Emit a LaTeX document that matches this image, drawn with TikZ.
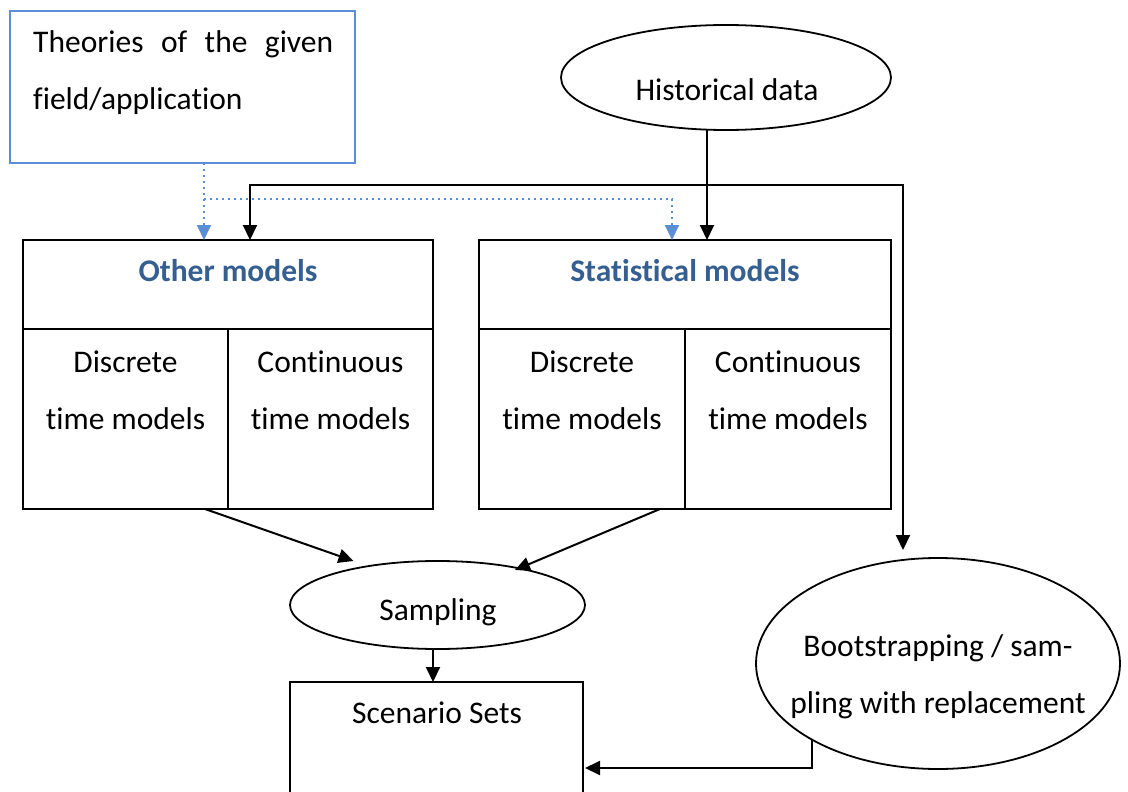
\documentclass[tikz,border=0pt]{standalone}
\usepackage{fontspec}
\setmainfont{Carlito}[Ligatures=NoCommon]
\usetikzlibrary{shapes.geometric,arrows.meta}

\definecolor{boxblue}{RGB}{91,142,213}
\definecolor{headblue}{RGB}{54,95,145}

\tikzset{
  body/.style={font=\fontsize{31.5}{57}\selectfont, inner sep=0pt, anchor=base},
  heading/.style={body, font=\fontsize{31.5}{57}\selectfont\bfseries, text=headblue},
  frame/.style={draw, line width=2pt, inner sep=0pt, outer sep=0pt},
  oval/.style={frame, line width=1.8pt, ellipse},
  tip/.tip={Triangle[width=14pt,length=15pt]},
  arr/.style={line width=2pt, -tip},
  biarr/.style={line width=2pt, tip-tip},
  dotarr/.style={draw=boxblue, line width=2pt, dash pattern=on 2pt off 4pt,
                 -{Triangle[width=14pt,length=15pt,fill=boxblue]}}
}

\begin{document}
\begin{tikzpicture}[x=1pt, y=-1pt]
\useasboundingbox (0,0) rectangle (1128,792);
\clip (0,0) rectangle (1128,792);
\fill[white] (0,0) rectangle (1128,792);

% input sources
\node[frame, draw=boxblue, minimum width=345pt, minimum height=152pt] (theories) at (182.5,87) {};
\node[body, anchor=base west, text width=300pt, align=justify] (theoriestext) at (33,53)
  {Theories of the given field/application};

\node[oval, minimum width=330pt, minimum height=105pt] (hist) at (726,77.5) {};
\node[body] (histtext) at (727,101) {Historical data};

% model families (multi-line labels sit on the baseline of their last line)
\node[frame, rectangle, minimum width=410pt, minimum height=269pt] (other) at (228,374.5) {};
\draw[line width=2pt] ([yshift=-89pt]other.north west) -- ([yshift=-89pt]other.north east);
\draw[line width=2pt] (other.south) -- ++(0,-180);
\node[heading] (othertitle) at (228,281) {Other models};
\node[body, align=center] (otherdisc) at (125.5,429) {Discrete\\time models};
\node[body, align=center] (othercont) at (330.5,429) {Continuous\\time models};

\node[frame, rectangle, minimum width=412pt, minimum height=269pt] (stat) at (685,374.5) {};
\draw[line width=2pt] ([yshift=-89pt]stat.north west) -- ([yshift=-89pt]stat.north east);
\draw[line width=2pt] (stat.south) -- ++(0,-180);
\node[heading] (stattitle) at (685,281) {Statistical models};
\node[body, align=center] (statdisc) at (582,429) {Discrete\\time models};
\node[body, align=center] (statcont) at (788,429) {Continuous\\time models};

% sampling and results
\node[oval, minimum width=295pt, minimum height=88pt] (samp) at (437.5,605) {};
\node[body] (samptext) at (438,620) {Sampling};

\node[frame, rectangle, minimum width=293pt, minimum height=148pt] (scen) at (436.5,756) {};
\node[body] (scentext) at (437,723) {Scenario Sets};

\node[oval, minimum width=364pt, minimum height=211pt] (boot) at (938,663.5) {};
\node[body, align=center] (boottext) at (938,713) {Bootstrapping / sam-\\pling with replacement};

% connectors
\coordinate (dx) at (204,0);
\coordinate (dbranch) at (204,199);
\coordinate (sx) at (672,0);
\draw[dotarr] (theories.south -| dx) -- (other.north -| dx);
\draw[dotarr] (dbranch) -| (stat.north -| sx);

\draw[arr] ([xshift=-19pt]hist.south) -- ([xshift=-19pt]hist.south |- stat.north);

\coordinate (loopR) at (903,185);
\coordinate (bootTip) at (903,550);
\draw[biarr] ([xshift=22pt]other.north) |- (loopR) -- (bootTip);

\draw[arr] ([xshift=-23pt]other.south) -- ([shift={(-84,-44)}]samp.center);
\draw[arr] ([xshift=-25pt]stat.south) -- ([shift={(77.5,-35)}]samp.center);

\draw[arr] ([xshift=-4.5pt]samp.south) -- ([xshift=-4.5pt]samp.south |- scen.north);

\draw[arr] ([shift={(-126,76)}]boot.center) |- ([shift={(2,12)}]scen.east);
\end{tikzpicture}
\end{document}
